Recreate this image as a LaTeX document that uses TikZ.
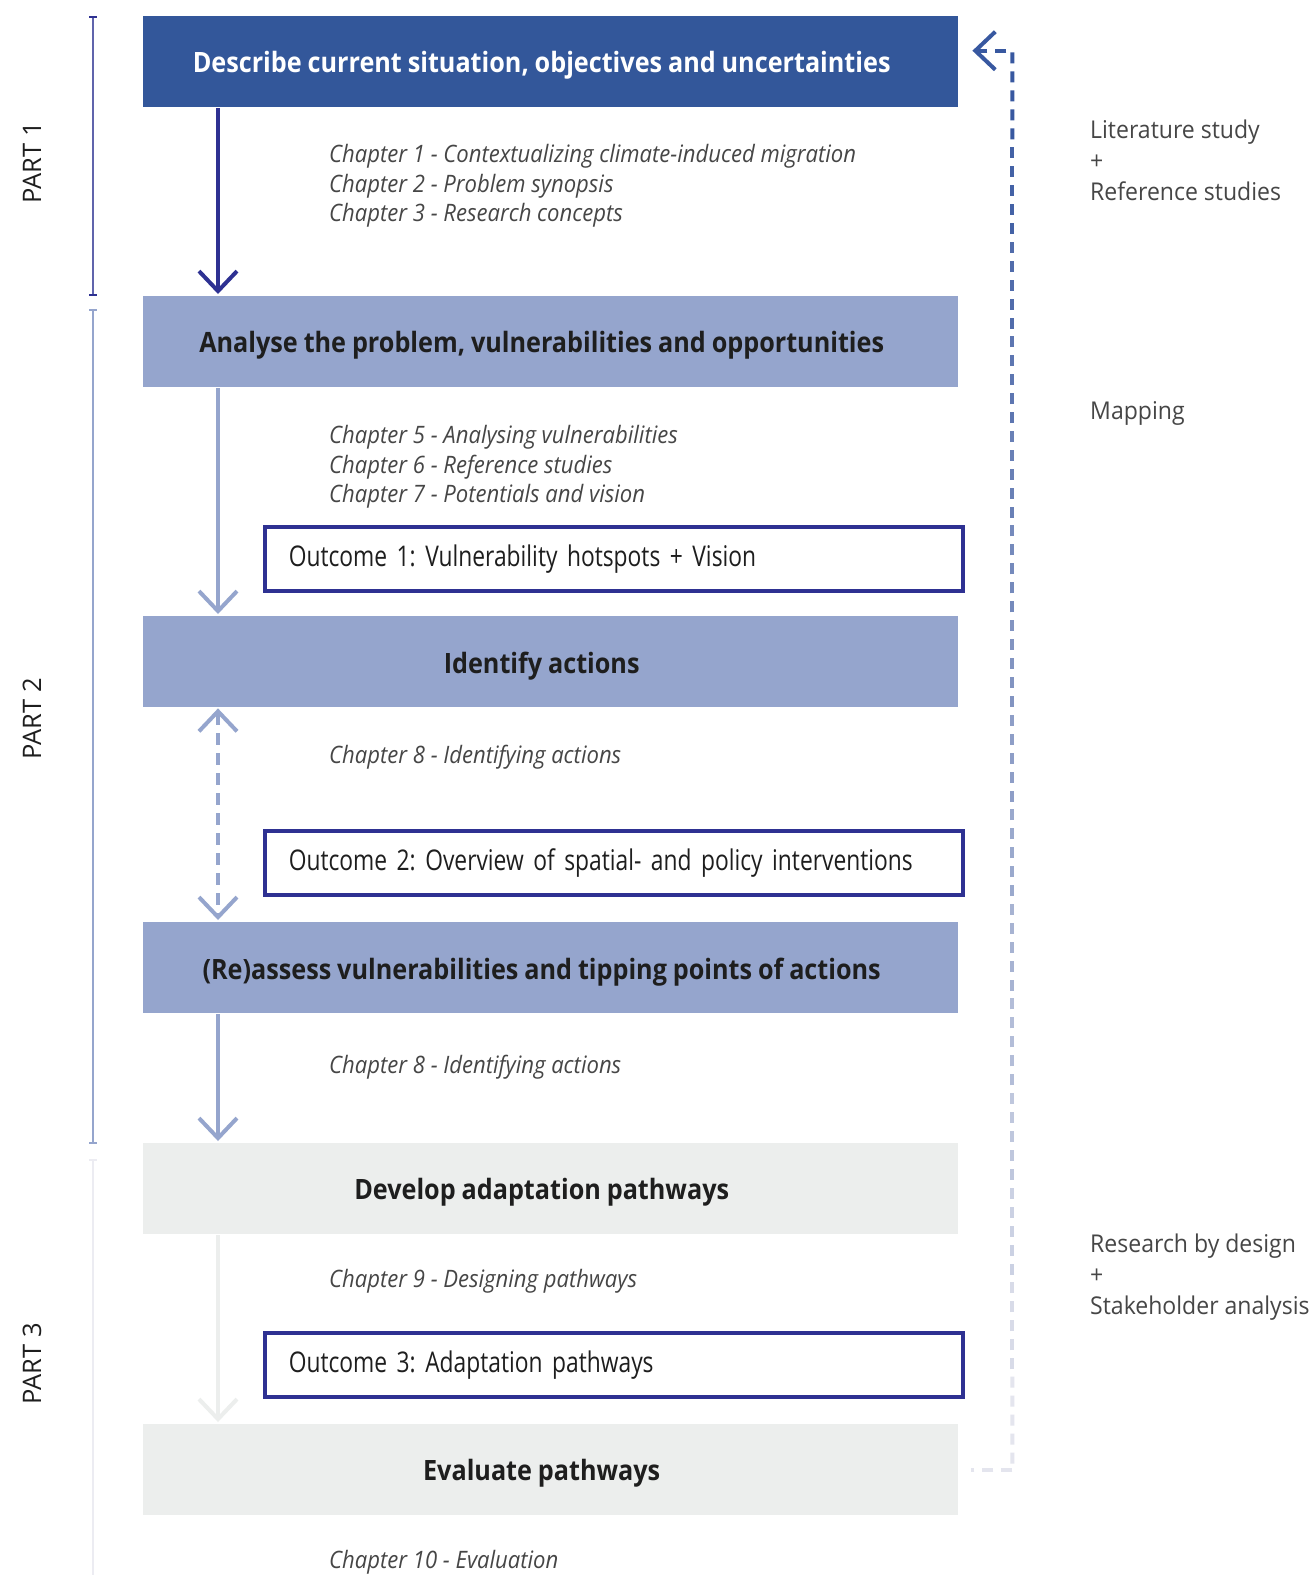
\documentclass[tikz,border=0pt]{standalone}
\usepackage{fontspec}
\setmainfont{Open Sans}
\newfontfamily\titlefam{Open Sans}[FakeStretch=0.9, WordSpace=0.9]
\newfontfamily\chapfam{Open Sans}[FakeStretch=0.92]
\newfontfamily\outfam{Open Sans}[FakeStretch=0.8]
\newfontfamily\notefam{Open Sans}[FakeStretch=0.94]
\usetikzlibrary{arrows.meta,calc}

\definecolor{navy}{RGB}{46,49,146}
\definecolor{deepblue}{RGB}{51,87,154}
\definecolor{paleblue}{RGB}{149,165,205}
\definecolor{palegray}{RGB}{236,238,237}
\definecolor{inkgray}{RGB}{30,30,30}
\definecolor{notegray}{RGB}{70,70,70}
\definecolor{fbtop}{RGB}{56,88,160}
\definecolor{fbbot}{RGB}{228,229,238}
\definecolor{partone}{RGB}{96,100,172}
\definecolor{partthree}{RGB}{236,236,242}

\newcommand\titlefont{\titlefam\bfseries\fontsize{28}{32}\selectfont}
\newcommand\chapfont{\chapfam\itshape\fontsize{24}{29.7}\selectfont}
\newcommand\outfont{\outfam\frenchspacing\fontsize{28.5}{32}\selectfont\spaceskip=4.5pt plus 1pt\relax}
\newcommand\notefont{\notefam\fontsize{24.5}{31}\selectfont}
\newcommand\ttl[1]{\hspace*{-18pt}\raisebox{-4pt}[\height][\depth]{#1}}

\begin{document}
\begin{tikzpicture}[x=1pt,y=-1pt,
  stage/.style={anchor=north west, minimum width=815pt, minimum height=91pt,
    inner sep=0pt, font=\titlefont, text=inkgray},
  chapters/.style={anchor=west, align=left, inner sep=0pt, font=\chapfont, text=notegray},
  outcome/.style={anchor=north west, draw=navy, line width=3.5pt, fill=white,
    text width=650pt, align=left, inner xsep=24pt, minimum height=64pt,
    font=\outfont, text=inkgray},
  note/.style={anchor=west, align=left, inner sep=0pt, font=\notefont, text=notegray},
  partlabel/.style={rotate=90, inner sep=0pt, font=\fontsize{25.5}{30}\selectfont, text=inkgray},
  flow/.style={line width=4pt, -{Straight Barb[length=20pt,width=38pt]}},
  feedback/.style={line width=4pt, dash pattern=on 11pt off 8pt}
]
\useasboundingbox[fill=white] (0,0) rectangle (1316,1575);

% stage boxes
\node[stage, fill=deepblue, text=white] (b1) at (143,16)
  {\ttl{Describe current situation, objectives and uncertainties}};
\node[stage, fill=paleblue] (b2) at (143,296)
  {\ttl{Analyse the problem, vulnerabilities and opportunities}};
\node[stage, fill=paleblue] (b3) at (143,616) {\ttl{Identify actions}};
\node[stage, fill=paleblue] (b4) at (143,922)
  {\ttl{(Re)assess vulnerabilities and tipping points of actions}};
\node[stage, fill=palegray] (b5) at (143,1143) {\ttl{Develop adaptation pathways}};
\node[stage, fill=palegray] (b6) at (143,1424) {\ttl{Evaluate pathways}};

% chapter references
\node[chapters] (c1) at (329,186) {Chapter 1 - Contextualizing climate-induced migration\\
  Chapter 2 - Problem synopsis\\Chapter 3 - Research concepts};
\node[chapters] (c2) at (329,467) {Chapter 5 - Analysing vulnerabilities\\
  Chapter 6 - Reference studies\\Chapter 7 - Potentials and vision};
\node[chapters] (c3) at (329,757) {Chapter 8 - Identifying actions};
\node[chapters] (c4) at (329,1067) {Chapter 8 - Identifying actions};
\node[chapters] (c5) at (329,1281) {Chapter 9 - Designing pathways};
\node[chapters] (c6) at (329,1562) {Chapter 10 - Evaluation};

% outcomes
\node[outcome] (o1) at (263,525) {Outcome 1: Vulnerability hotspots + Vision};
\node[outcome] (o2) at (263,829) {Outcome 2: Overview of spatial- and policy interventions};
\node[outcome] (o3) at (263,1331) {Outcome 3: Adaptation pathways};

% flow arrows
\draw[flow, navy] ([xshift=75pt,yshift=-1pt]b1.south west) -- ([xshift=75pt,yshift=2pt]b2.north west);
\draw[flow, paleblue] ([xshift=75pt,yshift=-1pt]b2.south west) -- ([xshift=75pt,yshift=2pt]b3.north west);
\draw[line width=4pt, paleblue, dash pattern=on 12pt off 8pt,
  {Straight Barb[length=20pt,width=38pt]}-{Straight Barb[length=20pt,width=38pt]}]
  ([xshift=75pt,yshift=-1pt]b3.south west) -- ([xshift=75pt,yshift=2pt]b4.north west);
\draw[flow, paleblue] ([xshift=75pt,yshift=-1pt]b4.south west) -- ([xshift=75pt,yshift=2pt]b5.north west);
\draw[flow, palegray] ([xshift=75pt,yshift=-1pt]b5.south west) -- ([xshift=75pt,yshift=2pt]b6.north west);

% part brackets
\coordinate (p1a) at (93,17);  \coordinate (p1b) at (93,295);
\coordinate (p2a) at (93,310); \coordinate (p2b) at (93,1143);
\coordinate (p3a) at (93,1160); \coordinate (p3b) at (93,1580);
\draw[line width=2pt, partone] (p1a) -- (p1b);
\draw[line width=2.5pt, navy] ([xshift=-4pt]p1a) -- ([xshift=4pt]p1a);
\draw[line width=2.5pt, navy] ([xshift=-4pt]p1b) -- ([xshift=4pt]p1b);
\draw[line width=2pt, paleblue] (p2a) -- (p2b);
\draw[line width=2.5pt, paleblue] ([xshift=-4pt]p2a) -- ([xshift=4pt]p2a);
\draw[line width=2.5pt, paleblue] ([xshift=-4pt]p2b) -- ([xshift=4pt]p2b);
\draw[line width=2pt, partthree] (p3a) -- (p3b);
\draw[line width=2.5pt, partthree] ([xshift=-4pt]p3a) -- ([xshift=4pt]p3a);

\node[partlabel] (l1) at (32,163) {PART 1};
\node[partlabel] (l2) at (32,719) {PART 2};
\node[partlabel] (l3) at (32,1364) {PART 3};

% methods
\node[note] (m1) at (1090,160) {Literature study\\+\\Reference studies};
\node[note] (m2) at (1090,413) {Mapping};
\node[note] (m3) at (1090,1277) {Research by design\\+\\Stakeholder analysis};

% feedback loop from the last stage back to the first, fading downwards
\coordinate (fbTop) at ([xshift=54pt,yshift=11pt]b1.east);
\coordinate (fbBot) at ([xshift=54pt]b6.east);
\coordinate (fbEnd) at ([xshift=13pt]b6.east);
\coordinate (fbTip) at ([xshift=14pt,yshift=11pt]b1.east);
\draw[feedback, fbbot] (fbBot) -- (fbEnd);
\foreach \i in {0,...,14}{
  \pgfmathsetmacro\mixA{\i*100/14}
  \pgfmathsetmacro\fa{\i/15}
  \pgfmathsetmacro\fb{(\i+1)/15}
  \draw[feedback, color=fbtop!\mixA!fbbot] ($(fbBot)!\fa!(fbTop)+(0,-6)$) -- ($(fbBot)!\fb!(fbTop)+(0,-6)$);
}
\draw[line width=4pt, fbtop, dash pattern=on 11pt off 8pt, dash phase=-6pt,
  -{Straight Barb[length=20pt,width=38pt]}] (fbTop) -- (fbTip);
\end{tikzpicture}
\end{document}
